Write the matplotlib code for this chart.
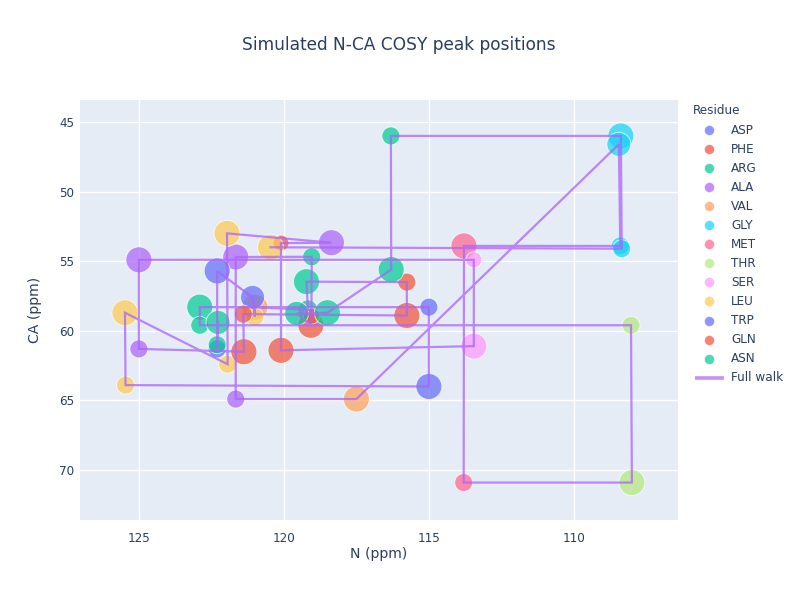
import matplotlib
matplotlib.use("Agg")
import matplotlib.pyplot as plt

# ---------------- data ----------------
residues = ["ASP", "PHE", "ARG", "ALA", "VAL", "GLY", "MET",
            "THR", "SER", "LEU", "TRP", "GLN", "ASN"]
res_colors = ["#636EFA", "#EF553B", "#00CC96", "#AB63FA", "#FFA15A",
              "#19D3F3", "#FF6692", "#B6E880", "#FF97FF", "#FECB52",
              "#636EFA", "#EF553B", "#00CC96"]

peak_res = ["ASP", "ASP", "TRP", "TRP", "TRP",
            "PHE", "PHE", "GLN", "GLN", "PHE", "PHE", "GLN", "GLN",
            "ARG", "ARG", "ARG", "ASN", "ASN", "ARG", "ASN", "ARG", "ARG", "ASN", "ASN",
            "ALA", "ALA", "ALA", "ALA", "ALA",
            "VAL", "VAL",
            "GLY", "GLY", "GLY", "GLY",
            "MET", "MET",
            "THR", "THR",
            "SER", "SER",
            "LEU", "LEU", "LEU", "LEU", "LEU", "LEU"]
peak_n = [115.0, 115.0, 122.3, 121.08, 122.3,
          120.1, 120.1, 121.4, 121.38, 115.76, 115.76, 119.07, 119.05,
          116.31, 116.3, 119.04, 119.22, 119.56, 119.17, 118.5, 122.9, 122.9, 122.27, 122.3,
          125.0, 125.0, 121.66, 121.66, 118.36,
          117.5, 121.0,
          108.38, 108.45, 108.4, 108.35,
          113.79, 113.8,
          108.03, 108.0,
          113.45, 113.45,
          125.48, 125.46, 121.96, 121.94, 120.46, 121.0]
peak_ca = [64.0, 58.3, 55.7, 57.6, 61.3,
           53.7, 61.4, 58.8, 61.5, 56.5, 58.9, 59.6, 58.95,
           46.0, 55.6, 54.68, 56.47, 58.75, 58.5, 58.7, 58.3, 59.6, 59.4, 61.0,
           54.9, 61.3, 54.7, 64.9, 53.67,
           64.9, 58.3,
           46.0, 46.6, 53.9, 54.1,
           53.9, 70.9,
           59.6, 70.9,
           54.9, 61.1,
           58.7, 63.9, 53.0, 62.4, 54.0, 59.0]
peak_size = [26, 18, 26, 24, 18,
             16, 26, 18, 26, 18, 26, 26, 16,
             18, 26, 18, 26, 24, 20, 26, 26, 18, 24, 18,
             26, 18, 26, 18, 26,
             26, 26,
             26, 24, 18, 18,
             26, 18,
             18, 26,
             16, 26,
             26, 18, 26, 18, 26, 18]

walk_order = [45, 34, 31, 13, 14, 19, 17, 11, 12, 15, 26, 27, 29, 32, 33,
              35, 36, 38, 37, 21, 20, 1, 0, 42, 41, 44, 43, 28, 5, 6, 40,
              39, 24, 25, 8, 7, 10, 9, 16, 18, 30, 46, 3, 2, 4, 23, 22]

x_ticks = [110, 115, 120, 125]
y_ticks = [45, 50, 55, 60, 65, 70]

# ---------------- figure ----------------
W, H = 800, 600
fig = plt.figure(figsize=(8, 6), dpi=100)
fig.patch.set_facecolor("white")
L, R, T, B = 80, 678, 100, 520
ax = fig.add_axes([L / W, 1 - B / H, (R - L) / W, (B - T) / H])
ax.set_facecolor("#E5ECF6")
for s in ax.spines.values():
    s.set_visible(False)

FONT = "DejaVu Sans"
TXT = "#2a3f5f"

color_of = dict(zip(residues, res_colors))
for res in residues:
    xs = [n for n, r in zip(peak_n, peak_res) if r == res]
    ys = [c for c, r in zip(peak_ca, peak_res) if r == res]
    ss = [(d * 0.72) ** 2 for d, r in zip(peak_size, peak_res) if r == res]
    ax.scatter(xs, ys, s=ss, c=color_of[res], alpha=0.72,
               edgecolors="white", linewidths=0.7, zorder=3)

wx = [peak_n[i] for i in walk_order]
wy = [peak_ca[i] for i in walk_order]
ax.plot(wx, wy, color="#AB63FA", lw=1.6, alpha=0.75, zorder=4,
        solid_joinstyle="miter")

ax.set_xlim(127.03, 106.41)
ax.set_ylim(73.59, 43.42)
ax.set_xticks(x_ticks)
ax.set_yticks(y_ticks)
ax.grid(True, color="white", lw=1.0, zorder=0)
ax.set_axisbelow(True)
ax.tick_params(length=0, labelsize=8.64, labelcolor=TXT)
ax.tick_params(axis="x", pad=9)
ax.tick_params(axis="y", pad=4)
for lab in ax.get_xticklabels() + ax.get_yticklabels():
    lab.set_fontfamily(FONT)

# overlay for text / legend in pixel coords
ov = fig.add_axes([0, 0, 1, 1], facecolor="none")
ov.set_xlim(0, W)
ov.set_ylim(H, 0)
ov.axis("off")

ov.text(399, 45, "Simulated N-CA COSY peak positions", ha="center", va="center",
        fontsize=12.24, color=TXT, family=FONT)
ov.text(379, 554, "N (ppm)", ha="center", va="center", fontsize=10.08,
        color=TXT, family=FONT)
ov.text(35, 310, "CA (ppm)", ha="center", va="center", fontsize=10.08,
        color=TXT, family=FONT, rotation=90)

# legend
ov.text(693, 111, "Residue", ha="left", va="center", fontsize=8.64,
        color=TXT, family=FONT)
for k, (res, col) in enumerate(zip(residues, res_colors)):
    yy = 130 + 19.05 * k
    ov.scatter([709], [yy], s=(10 * 0.72) ** 2, c=col, alpha=0.72,
               edgecolors="white", linewidths=0.5)
    ov.text(731, yy, res, ha="left", va="center", fontsize=8.64,
            color=TXT, family=FONT)
yy = 130 + 19.05 * len(residues)
ov.plot([695, 724], [yy, yy], color="#AB63FA", lw=2.6, alpha=0.7,
        solid_capstyle="butt")
ov.text(731, yy, "Full walk", ha="left", va="center", fontsize=8.64,
        color=TXT, family=FONT)

fig.savefig("out.png", dpi=100)
